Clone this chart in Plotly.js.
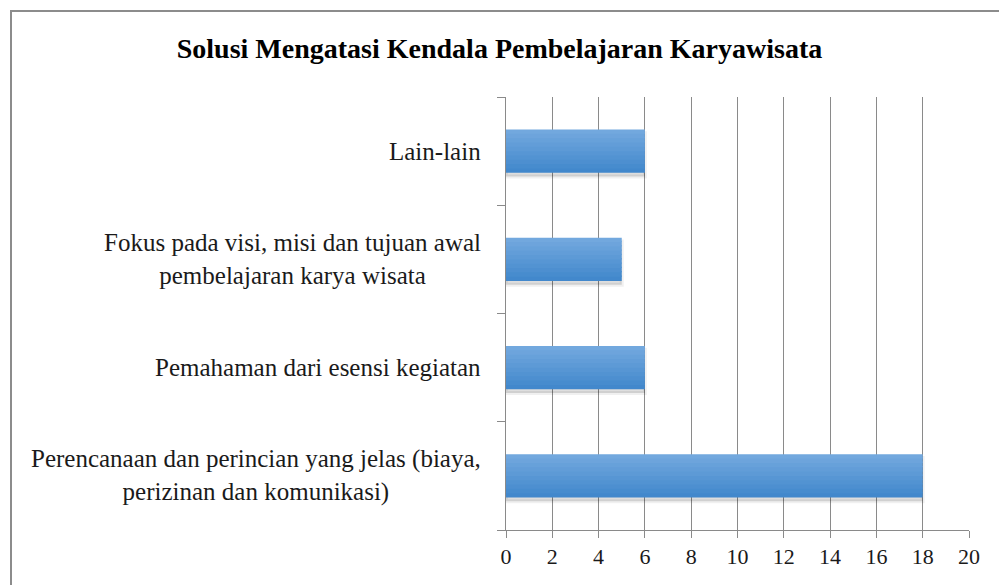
<!DOCTYPE html>
<html>
<head>
<meta charset="utf-8">
<script src="https://cdn.plot.ly/plotly-3.0.1.min.js"></script>
<style>html,body{margin:0;padding:0;background:#fff;}#chart{width:999px;height:585px;}</style>
</head>
<body>
<div id="chart"></div>
<script>
// Data (bottom to top, as drawn)
const categories = [
  "Perencanaan dan perincian yang jelas (biaya,<br>perizinan dan komunikasi)",
  "Pemahaman dari esensi kegiatan",
  "Fokus pada visi, misi dan tujuan awal<br>pembelajaran karya wisata",
  "Lain-lain"
];
const values = [18, 6, 5, 6];
const xTicks = [0, 2, 4, 6, 8, 10, 12, 14, 16, 18, 20];
const titleText = "Solusi Mengatasi Kendala Pembelajaran Karyawisata";

const serif = "Liberation Serif";
const barW = 0.4;
const nStrips = 10;
const topC = [114, 168, 222], botC = [66, 136, 204];

const traces = [];
// soft shadow
traces.push({
  type: 'bar', orientation: 'h', x: values, y: categories,
  width: barW, offset: -barW / 2 - 0.035,
  marker: {color: 'rgba(0,0,0,0.13)', line: {color: 'rgba(0,0,0,0.06)', width: 4}},
  hoverinfo: 'skip', showlegend: false
});
// gradient strips (bottom strip first)
for (let i = 0; i < nStrips; i++) {
  const t = i / (nStrips - 1);
  const c = botC.map((b, k) => Math.round(b + (topC[k] - b) * t));
  const off = -barW / 2 + i * barW / nStrips;
  const w = (i === nStrips - 1) ? barW / nStrips : barW / nStrips + 0.012;
  traces.push({
    type: 'bar', orientation: 'h', x: values, y: categories,
    width: w, offset: off,
    marker: {color: `rgb(${c[0]},${c[1]},${c[2]})`, line: {width: 0}},
    hoverinfo: 'x', showlegend: false
  });
}

const annotations = categories.map(c => ({
  xref: 'paper', yref: 'y', x: -0.05, y: c, text: c,
  xanchor: 'right', yanchor: 'middle', align: 'center', showarrow: false,
  font: {family: serif, size: 25, color: '#1a1a1a'}
}));

const layout = {
  width: 999, height: 585,
  margin: {l: 506, r: 30, t: 97, b: 55, pad: 0},
  paper_bgcolor: '#fff', plot_bgcolor: '#fff',
  barmode: 'overlay',
  showlegend: false,
  title: {
    text: '<b>' + titleText + '</b>',
    x: 0.5, xref: 'container', xanchor: 'center',
    y: 1 - 48 / 585, yref: 'container', yanchor: 'middle',
    font: {family: serif, size: 28, color: '#000'}
  },
  xaxis: {
    range: [0, 20], tickvals: xTicks, ticktext: xTicks.map(String),
    showgrid: true, gridcolor: '#8a8a8a', gridwidth: 1,
    showline: true, linecolor: '#8a8a8a', linewidth: 1,
    ticks: 'outside', ticklen: 7, tickcolor: '#8a8a8a',
    zeroline: false,
    tickfont: {family: serif, size: 22, color: '#1a1a1a'},
    fixedrange: true
  },
  yaxis: {
    type: 'category', categoryorder: 'array', categoryarray: categories,
    range: [-0.5, 3.5],
    showticklabels: false,
    tickson: 'boundaries', ticks: 'outside', ticklen: 8, tickcolor: '#8a8a8a',
    showline: true, linecolor: '#8a8a8a', linewidth: 1,
    showgrid: false, zeroline: false, fixedrange: true
  },
  annotations: annotations,
  shapes: [{
    type: 'rect', xref: 'paper', yref: 'paper',
    x0: (11 - 506) / 463, x1: 1.2, y0: -0.3, y1: (530 - 11) / 433,
    line: {color: '#8c8c8c', width: 2}, fillcolor: 'rgba(0,0,0,0)', layer: 'below'
  }]
};

Plotly.newPlot('chart', traces, layout, {displayModeBar: false, staticPlot: true});
</script>
</body>
</html>
